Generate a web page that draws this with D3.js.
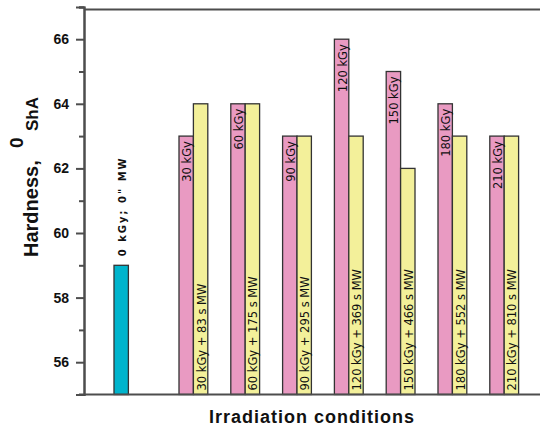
<!DOCTYPE html>
<html>
<head>
<meta charset="utf-8">
<script src="https://cdn.jsdelivr.net/npm/d3@7"></script>
<style>
  html, body { margin: 0; padding: 0; background: #fff; }
  svg { display: block; }
</style>
</head>
<body>
<svg id="chart" width="540" height="428"></svg>
<script>
// Shore A hardness after gamma irradiation, with and without microwave treatment
const conditions = ["30 kGy", "60 kGy", "90 kGy", "120 kGy", "150 kGy", "180 kGy", "210 kGy"];
const irradiated = [63, 64, 63, 66, 65, 64, 63];
const irradiatedMW = [64, 64, 63, 63, 62, 63, 63];
const mwLabels = [
  "30 kGy + 83 s MW", "60 kGy + 175 s MW", "90 kGy + 295 s MW", "120 kGy + 369 s MW",
  "150 kGy + 466 s MW", "180 kGy + 552 s MW", "210 kGy + 810 s MW"
];
const controlLabel = "0 kGy; 0\" MW";
const controlValue = 59;
const majorTicks = [56, 58, 60, 62, 64, 66];
const minorTicks = [55, 57, 59, 61, 63, 65, 67];

const svg = d3.select("#chart");
const axisColor = "#4d4d4d";
const pink = "#e99ac2", yellow = "#f3f09a", cyan = "#00b4cc";

const left = 84, bottom = 394.5, right = 540, frameTop = 9.5;

const y = d3.scaleLinear().domain([55, 67]).range([bottom, 6.9]);
const x = d3.scaleBand().domain(conditions).range([167.5, 530.1]).padding(0);
const bw = x.step() * 0.278;
const center = c => x(c) + x.bandwidth() / 2;
// the untreated reference sits a little further left than a regular group step
const controlX = center(conditions[0]) - 1.394 * x.step();

// frame line along the top
svg.append("line").attr("x1", left).attr("x2", right).attr("y1", frameTop).attr("y2", frameTop)
  .attr("stroke", axisColor).attr("stroke-width", 2);

// bars: irradiated only
const g = svg.append("g");
g.selectAll("rect.irr").data(conditions).join("rect")
  .attr("class", "irr")
  .attr("x", c => center(c) - bw)
  .attr("width", bw)
  .attr("y", (c, i) => y(irradiated[i]))
  .attr("height", (c, i) => y(55) - y(irradiated[i]))
  .attr("fill", pink).attr("stroke", "#333").attr("stroke-width", 1.3);

// bars: irradiated + microwave
g.selectAll("rect.mw").data(conditions).join("rect")
  .attr("class", "mw")
  .attr("x", c => center(c))
  .attr("width", bw)
  .attr("y", (c, i) => y(irradiatedMW[i]))
  .attr("height", (c, i) => y(55) - y(irradiatedMW[i]))
  .attr("fill", yellow).attr("stroke", "#333").attr("stroke-width", 1.3);

// control bar
g.append("rect")
  .attr("x", controlX - bw / 2).attr("width", bw)
  .attr("y", y(controlValue)).attr("height", y(55) - y(controlValue))
  .attr("fill", cyan).attr("stroke", "#333").attr("stroke-width", 1.3);

// labels inside bars
const labelFont = "'DejaVu Sans', sans-serif";
g.selectAll("text.irr").data(conditions).join("text")
  .attr("class", "irr")
  .attr("transform", (c, i) => `translate(${center(c) - bw / 2 + 1},${y(irradiated[i]) + 5}) rotate(-90)`)
  .attr("text-anchor", "end").attr("dominant-baseline", "central")
  .style("font-family", labelFont).style("font-size", "11.5px").attr("fill", "#111")
  .text(c => c);

g.selectAll("text.mw").data(conditions).join("text")
  .attr("class", "mw")
  .attr("transform", c => `translate(${center(c) + bw / 2 + 1},${y(55) - 4}) rotate(-90)`)
  .attr("text-anchor", "start").attr("dominant-baseline", "central")
  .style("font-family", labelFont).style("font-size", "11.5px").attr("fill", "#111")
  .text((c, i) => mwLabels[i]);

g.append("text")
  .attr("transform", `translate(${controlX + 1},${y(controlValue) - 9}) rotate(-90)`)
  .attr("text-anchor", "start").attr("dominant-baseline", "central")
  .style("font-family", labelFont).style("font-size", "10px").style("font-weight", "bold")
  .style("letter-spacing", "2px").attr("fill", "#111")
  .text(controlLabel);

// y axis
const yMajor = svg.append("g").attr("transform", `translate(${left},0)`)
  .call(d3.axisLeft(y).tickValues(majorTicks).tickSize(8).tickPadding(7).tickFormat(d3.format("d")));
const yMinor = svg.append("g").attr("transform", `translate(${left},0)`)
  .call(d3.axisLeft(y).tickValues(minorTicks).tickSize(5).tickFormat(""));
[yMajor, yMinor].forEach(a => {
  a.selectAll("line").attr("stroke", axisColor).attr("stroke-width", 2);
  a.select(".domain").attr("stroke", axisColor).attr("stroke-width", 2);
});
yMajor.selectAll("text")
  .style("font-family", "'Liberation Sans', Arial, sans-serif")
  .style("font-size", "14px").style("font-weight", "bold").attr("fill", "#111");

// x axis baseline
svg.append("line").attr("x1", left - 5).attr("x2", right).attr("y1", bottom).attr("y2", bottom)
  .attr("stroke", axisColor).attr("stroke-width", 2);

// axis titles
const titleFont = "'Liberation Sans', Arial, sans-serif";
svg.append("text")
  .attr("x", 312).attr("y", 423).attr("text-anchor", "middle")
  .style("font-family", titleFont).style("font-size", "18px").style("font-weight", "bold")
  .style("letter-spacing", "1px").attr("fill", "#111")
  .text("Irradiation conditions");

svg.append("text")
  .attr("transform", "translate(38,257) rotate(-90)")
  .style("font-family", titleFont).style("font-size", "20px").style("font-weight", "bold").attr("fill", "#111")
  .text("Hardness,");
svg.append("text")
  .attr("transform", "translate(23,148) rotate(-90)")
  .style("font-family", titleFont).style("font-size", "19px").style("font-weight", "bold").attr("fill", "#111")
  .text("0");
svg.append("text")
  .attr("transform", "translate(38,131) rotate(-90)")
  .style("font-family", titleFont).style("font-size", "17px").style("font-weight", "bold").attr("fill", "#111")
  .text("ShA");
</script>
</body>
</html>
